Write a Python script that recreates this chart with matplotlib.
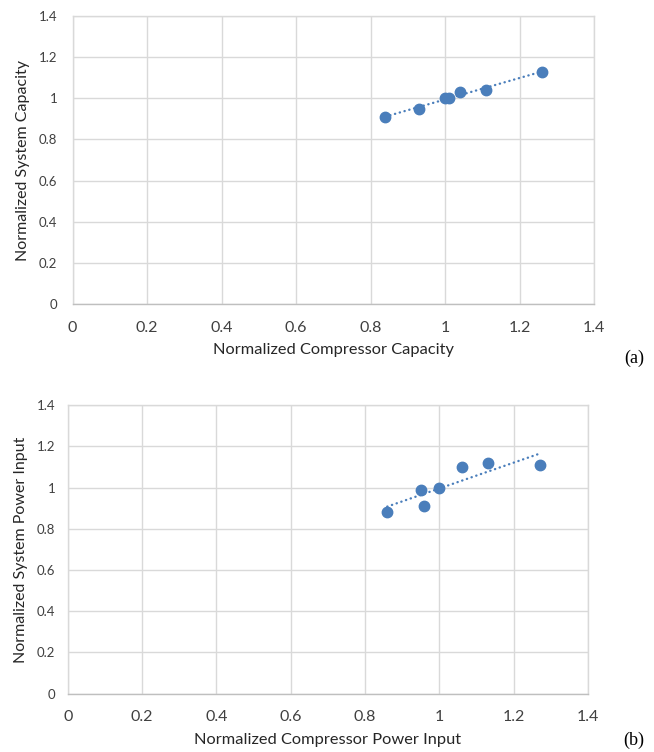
import numpy as np
import matplotlib
matplotlib.use("Agg")
import matplotlib.pyplot as plt

# Panel (a)
comp_capacity = [0.84, 0.93, 1.00, 1.01, 1.04, 1.11, 1.26]
sys_capacity = [0.91, 0.95, 1.00, 1.00, 1.03, 1.04, 1.13]
# Panel (b)
comp_power = [0.86, 0.95, 0.96, 1.00, 1.06, 1.13, 1.27]
sys_power = [0.88, 0.99, 0.91, 1.00, 1.10, 1.12, 1.11]

ticks = [0, 0.2, 0.4, 0.6, 0.8, 1.0, 1.2, 1.4]
tick_labels = ["0", "0.2", "0.4", "0.6", "0.8", "1", "1.2", "1.4"]

BLUE = "#4a7ebb"
GRID = "#d9d9d9"
FONT = "Lato"

fig = plt.figure(figsize=(6.54, 7.52), dpi=100)

def panel(rect, x, y, xlabel, ylabel, tag, tag_y, xpad, ypad):
    ax = fig.add_axes(rect)
    ax.set_xlim(0, 1.4)
    ax.set_ylim(0, 1.4)
    ax.set_xticks(ticks)
    ax.set_yticks(ticks)
    ax.set_xticklabels(tick_labels, fontsize=11.5, family=FONT, color="#404040")
    ax.set_yticklabels(tick_labels, fontsize=9.5, family=FONT, color="#404040")
    ax.tick_params(length=0)
    ax.tick_params(axis="x", pad=xpad)
    ax.tick_params(axis="y", pad=ypad)
    ax.grid(True, color=GRID, linewidth=1.0)
    ax.set_axisbelow(True)
    for s in ["top", "right", "left"]:
        ax.spines[s].set_color(GRID)
        ax.spines[s].set_linewidth(1.0)
    ax.spines["bottom"].set_color("#bfbfbf")
    ax.spines["bottom"].set_linewidth(1.0)
    xa = np.array(x)
    ya = np.array(y)
    m, b = np.polyfit(xa, ya, 1)
    xs = np.array([xa.min(), xa.max()])
    ax.plot(xs, m * xs + b, linestyle=(0, (0.1, 2.0)), color=BLUE, linewidth=1.7,
            dash_capstyle="round", zorder=2)
    ax.plot(xa, ya, linestyle="none", marker="o", markersize=7.5,
            color=BLUE, zorder=3)
    ax.set_xlabel(xlabel, fontsize=11.8, family=FONT, color="#262626", labelpad=6)
    ax.set_ylabel(ylabel, fontsize=11.5, family=FONT, color="#262626", labelpad=6)
    fig.text(0.985, tag_y, tag, fontsize=13, family="Liberation Serif",
             ha="right", va="center", color="black")
    return ax

panel([0.1109, 0.5957, 0.7974, 0.3830], comp_capacity, sys_capacity,
      "Normalized Compressor Capacity", "Normalized System Capacity",
      "(a)", 1 - 358 / 752, 12, 11)
panel([0.1037, 0.0775, 0.7951, 0.3839], comp_power, sys_power,
      "Normalized Compressor Power Input", "Normalized System Power Input",
      "(b)", 1 - 740 / 752, 12, 9)

fig.savefig("out.png", dpi=100, facecolor="white")
